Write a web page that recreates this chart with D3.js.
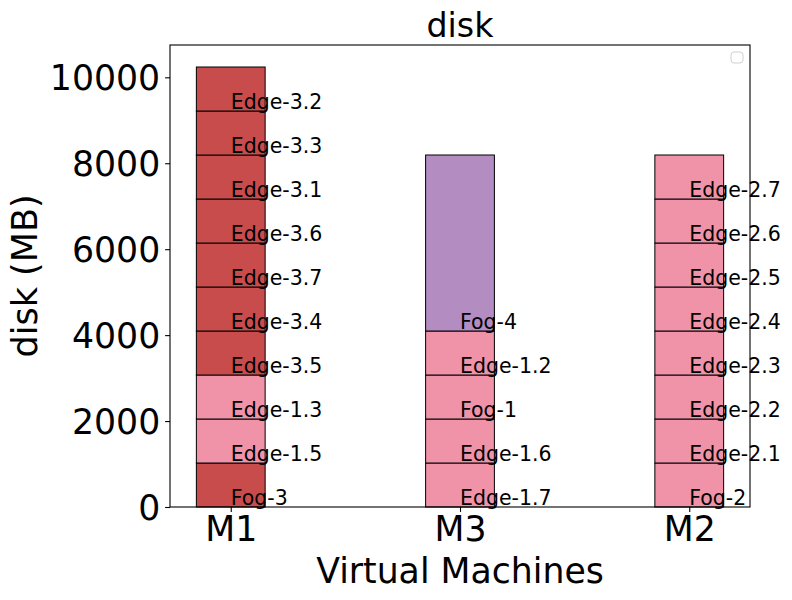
<!DOCTYPE html>
<html lang="en">
<head>
    <meta charset="UTF-8">
    <title>disk</title>
    <script src="https://d3js.org/d3.v7.min.js"></script>
    <style>
        body { margin: 0; background: #fff; }
        text { font-family: "DejaVu Sans", sans-serif; fill: #000; }
    </style>
</head>
<body>
<div id="chart-container"></div>
<script>
    // Chart data
    const machines = ["M1", "M3", "M2"];
    const m1Nodes = ["Fog-3", "Edge-1.5", "Edge-1.3", "Edge-3.5", "Edge-3.4", "Edge-3.7", "Edge-3.6", "Edge-3.1", "Edge-3.3", "Edge-3.2"];
    const m1Disk = [1024, 1024, 1024, 1024, 1024, 1024, 1024, 1024, 1024, 1024];
    const m3Nodes = ["Edge-1.7", "Edge-1.6", "Fog-1", "Edge-1.2", "Fog-4"];
    const m3Disk = [1024, 1024, 1024, 1024, 4096];
    const m2Nodes = ["Fog-2", "Edge-2.1", "Edge-2.2", "Edge-2.3", "Edge-2.4", "Edge-2.5", "Edge-2.6", "Edge-2.7"];
    const m2Disk = [1024, 1024, 1024, 1024, 1024, 1024, 1024, 1024];
    const yTicks = [0, 2000, 4000, 6000, 8000, 10000];
    // colour by the group number in the node name
    const groupColors = { "1": "#f093a9", "2": "#f093a9", "3": "#c94c4c", "4": "#b38cc2" };

    const stacks = [
        { machine: "M1", nodes: m1Nodes, disk: m1Disk },
        { machine: "M3", nodes: m3Nodes, disk: m3Disk },
        { machine: "M2", nodes: m2Nodes, disk: m2Disk }
    ];

    // flatten into segments with cumulative bottoms
    const segments = [];
    stacks.forEach(s => {
        let bottom = 0;
        s.nodes.forEach((n, i) => {
            segments.push({ machine: s.machine, node: n, y0: bottom, y1: bottom + s.disk[i] });
            bottom += s.disk[i];
        });
    });

    const width = 792, height = 600;
    const margin = { top: 45, right: 42, bottom: 93, left: 170 };
    const innerW = width - margin.left - margin.right;
    const innerH = height - margin.top - margin.bottom;
    const bigFont = "34.7px";

    const svg = d3.select("#chart-container")
        .append("svg")
        .attr("width", width)
        .attr("height", height);

    const g = svg.append("g")
        .attr("transform", `translate(${margin.left},${margin.top})`);

    // matplotlib-like categorical axis: bar width 0.3, 5% margins
    const barW = 0.3;
    const xMin = -barW / 2, xMax = machines.length - 1 + barW / 2;
    const xPad = (xMax - xMin) * 0.05;
    const xScale = d3.scaleLinear()
        .domain([xMin - xPad, xMax + xPad])
        .range([0, innerW]);

    const yMax = d3.max(stacks, s => d3.sum(s.disk));
    const yScale = d3.scaleLinear()
        .domain([0, yMax * 1.05])
        .range([innerH, 0]);

    const xPos = m => xScale(machines.indexOf(m));
    const bw = xScale(barW) - xScale(0);

    // bars
    g.selectAll(".seg")
        .data(segments)
        .enter()
        .append("rect")
        .attr("class", "seg")
        .attr("x", d => xPos(d.machine) - bw / 2)
        .attr("y", d => yScale(d.y1))
        .attr("width", bw)
        .attr("height", d => yScale(d.y0) - yScale(d.y1))
        .attr("fill", d => groupColors[d.node.split("-")[1].split(".")[0]])
        .attr("stroke", "#000")
        .attr("stroke-width", 1);

    // segment labels, sitting on the segment bottom
    g.selectAll(".seg-label")
        .data(segments)
        .enter()
        .append("text")
        .attr("class", "seg-label")
        .attr("x", d => xPos(d.machine))
        .attr("y", d => yScale(d.y0) - 2)
        .style("font-size", "20.5px")
        .text(d => d.node);

    // axes
    const yAxis = g.append("g")
        .call(d3.axisLeft(yScale).tickValues(yTicks).tickFormat(d3.format("d")).tickSize(4.9).tickPadding(4.9));
    yAxis.select(".domain").remove();
    yAxis.selectAll("text").style("font-size", bigFont).attr("dy", "0.36em");
    yAxis.selectAll("line").attr("stroke", "#000").attr("stroke-width", 1.1);

    const xAxis = g.append("g")
        .attr("transform", `translate(0,${innerH})`)
        .call(d3.axisBottom(xScale).tickValues(d3.range(machines.length)).tickFormat(i => machines[i]).tickSize(4.9).tickPadding(4.9));
    xAxis.select(".domain").remove();
    xAxis.selectAll("text").style("font-size", bigFont);
    xAxis.selectAll("line").attr("stroke", "#000").attr("stroke-width", 1.1);

    // frame
    g.append("rect")
        .attr("width", innerW)
        .attr("height", innerH)
        .attr("fill", "none")
        .attr("stroke", "#000")
        .attr("stroke-width", 1.1);

    // empty legend box
    g.append("rect")
        .attr("x", innerW - 19)
        .attr("y", 7)
        .attr("width", 12)
        .attr("height", 11)
        .attr("rx", 3)
        .attr("fill", "#fff")
        .attr("stroke", "#d0d0d0")
        .attr("stroke-width", 1);

    // title and axis labels
    svg.append("text")
        .attr("x", margin.left + innerW / 2)
        .attr("y", margin.top - 8.3)
        .attr("text-anchor", "middle")
        .style("font-size", "33.3px")
        .text("disk");

    svg.append("text")
        .attr("x", margin.left + innerW / 2)
        .attr("y", 583)
        .attr("text-anchor", "middle")
        .style("font-size", bigFont)
        .text("Virtual Machines");

    svg.append("text")
        .attr("transform", `translate(37,${margin.top + innerH / 2}) rotate(-90)`)
        .attr("text-anchor", "middle")
        .style("font-size", "35px")
        .text("disk (MB)");
</script>
</body>
</html>
